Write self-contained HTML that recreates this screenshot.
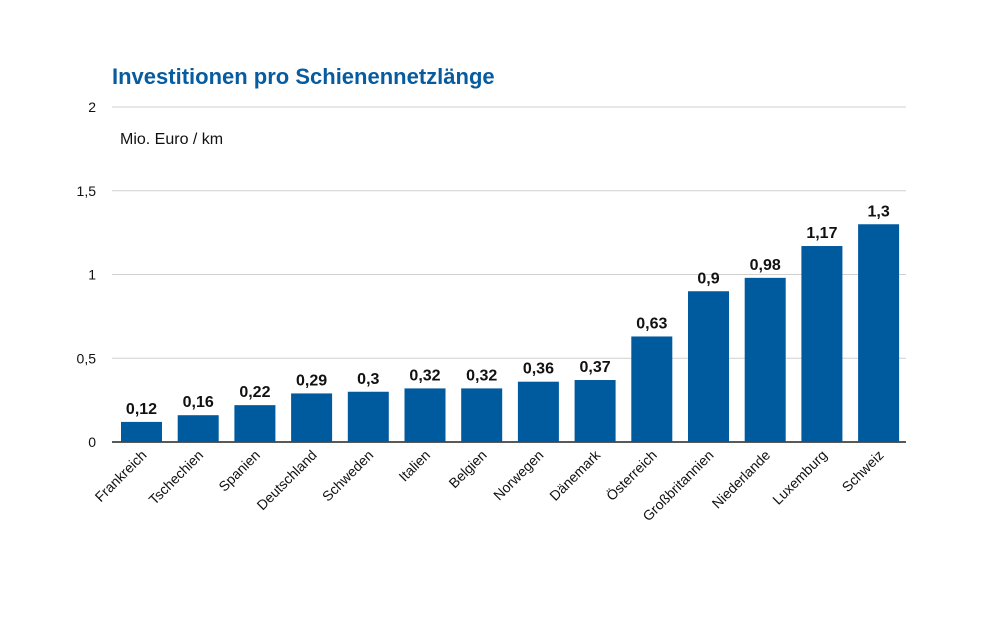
<!DOCTYPE html>
<html><head><meta charset="utf-8"><style>
body{margin:0;background:#fff;}
svg{display:block;font-family:"Liberation Sans",Arial,sans-serif;}
</style></head><body>
<svg id="chart" width="1000" height="619">
<text x="112" y="84" font-size="22" font-weight="bold" fill="#075b9f">Investitionen pro Schienennetzlänge</text>
<text x="120" y="144" font-size="16" fill="#111">Mio. Euro / km</text>
<g id="grid"></g><g id="bars"></g><g id="xlabels"></g>
</svg>
<script>
const categories=["Frankreich","Tschechien","Spanien","Deutschland","Schweden","Italien","Belgien","Norwegen","Dänemark","Österreich","Großbritannien","Niederlande","Luxemburg","Schweiz"];
const values=[0.12,0.16,0.22,0.29,0.3,0.32,0.32,0.36,0.37,0.63,0.9,0.98,1.17,1.3];
const valueLabels=["0,12","0,16","0,22","0,29","0,3","0,32","0,32","0,36","0,37","0,63","0,9","0,98","1,17","1,3"];
const yTicks=[0,0.5,1,1.5,2];
const yTickLabels=["0","0,5","1","1,5","2"];
const NS="http://www.w3.org/2000/svg";
const y0=442,yTop=107,yMax=2,xL=112,xR=906;
const y=v=>y0-(y0-yTop)*v/yMax;
const step=56.7,first=141.5,bw=41;
const x=i=>first+i*step;
function mk(t,a,p){const e=document.createElementNS(NS,t);for(const k in a)e.setAttribute(k,a[k]);p.appendChild(e);return e;}
const g=document.getElementById('grid'),b=document.getElementById('bars'),xl=document.getElementById('xlabels');
yTicks.forEach((t,i)=>{
 if(t>0){const l=mk('line',{x1:xL,x2:xR,y1:y(t),y2:y(t),stroke:'#d0d0d0','stroke-width':1},g);
 
 }
 const tx=mk('text',{x:96,y:y(t)+5,'font-size':14,'text-anchor':'end',fill:'#111'},g);
 tx.textContent=yTickLabels[i];
 
 
});
values.forEach((v,i)=>{
 const r=mk('rect',{x:x(i)-bw/2,y:y(v),width:bw,height:y0-y(v),fill:'#005a9e'},b);
 
 
 const t=mk('text',{x:x(i),y:y(v)-8,'font-size':16,'font-weight':'bold','text-anchor':'middle',fill:'#111'},b);
 t.textContent=valueLabels[i];
 
 
 const c=mk('text',{x:x(i)+6,y:y0+14,'font-size':14,'text-anchor':'end',fill:'#111',transform:`rotate(-45 ${x(i)+6} ${y0+14})`},xl);
 c.textContent=categories[i];
 
 
});
const ax=mk('line',{x1:xL,x2:xR,y1:y0,y2:y0,stroke:'#222','stroke-width':1.5},g);


</script>
</body></html>
